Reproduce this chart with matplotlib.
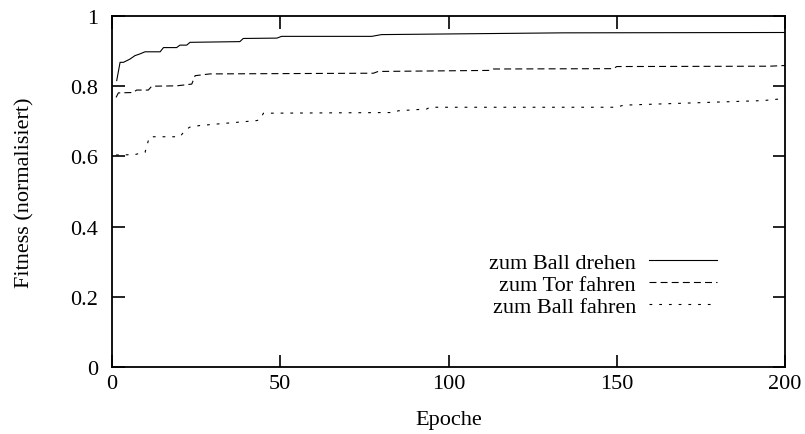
import matplotlib
matplotlib.use("Agg")
import matplotlib.pyplot as plt

# values
ep_drehen = [1.4, 2.4, 3.4, 5.3, 6.8, 8.3, 9.8, 14.3, 15.3, 19.2, 20.2, 22.2, 23.2,
             38, 39, 49, 50.4, 77.2, 80.1, 134, 200]
fit_drehen = [0.816, 0.868, 0.868, 0.877, 0.887, 0.892, 0.898, 0.898, 0.910, 0.910,
              0.917, 0.917, 0.925, 0.927, 0.936, 0.937, 0.942, 0.942, 0.947, 0.952, 0.953]

ep_tor = [1.2, 1.9, 6.3, 7.3, 10.8, 11.8, 19.2, 23.7, 24.7, 29.1, 77.7, 79.1,
          112.3, 113.3, 149, 150, 195.5, 200]
fit_tor = [0.768, 0.781, 0.782, 0.789, 0.789, 0.800, 0.801, 0.806, 0.830, 0.835,
           0.837, 0.842, 0.845, 0.849, 0.850, 0.856, 0.857, 0.859]

ep_ball = [1.2, 6.8, 8.3, 9.8, 10.8, 11.3, 20.2, 21.2, 23, 26.1, 43, 44, 45,
           83.6, 85.1, 93.5, 94.5, 150, 152, 193.5, 200]
fit_ball = [0.604, 0.605, 0.609, 0.611, 0.645, 0.656, 0.656, 0.668, 0.683, 0.688,
            0.702, 0.705, 0.723, 0.725, 0.730, 0.735, 0.740, 0.740, 0.746, 0.759, 0.765]

labels = ["zum Ball drehen", "zum Tor fahren", "zum Ball fahren"]
xticks = [0, 50, 100, 150, 200]
yticks = [0, 0.2, 0.4, 0.6, 0.8, 1]

plt.rcParams['font.family'] = ['Liberation Serif', 'DejaVu Serif']
plt.rcParams['font.size'] = 16
plt.rcParams['lines.scale_dashes'] = False

fig = plt.figure(figsize=(8.05, 4.35), dpi=100)
ax = fig.add_axes([112/805, 67/435, 673/805, 351/435])

ax.plot(ep_drehen, fit_drehen, color='black', lw=0.8, label=labels[0])
ax.plot(ep_tor, fit_tor, color='black', lw=0.8, dashes=(5, 3), label=labels[1])
ax.plot(ep_ball, fit_ball, color='black', lw=0.8, dashes=(2, 5), label=labels[2])

ax.set_xlim(0, 200)
ax.set_ylim(0, 1)
ax.set_xticks(xticks)
ax.set_xticklabels([str(t) for t in xticks])
ax.set_yticks(yticks)
ax.set_yticklabels(['0', '0.2', '0.4', '0.6', '0.8', '1'])
ax.tick_params(direction='in', length=9, width=1.2, top=True, right=True)
ax.tick_params(axis='y', pad=10)
ax.tick_params(axis='x', pad=5)
for s in ax.spines.values():
    s.set_linewidth(1.3)

ax.set_xlabel('Epoche', labelpad=12)
ax.set_ylabel('Fitness (normalisiert)', labelpad=26)

ax.legend(loc='center right', bbox_to_anchor=(0.899, 0.234), frameon=False,
          markerfirst=False, handlelength=3.05, handletextpad=0.6,
          labelspacing=0.06, borderpad=0, borderaxespad=0)

fig.savefig('out.png', dpi=100)
